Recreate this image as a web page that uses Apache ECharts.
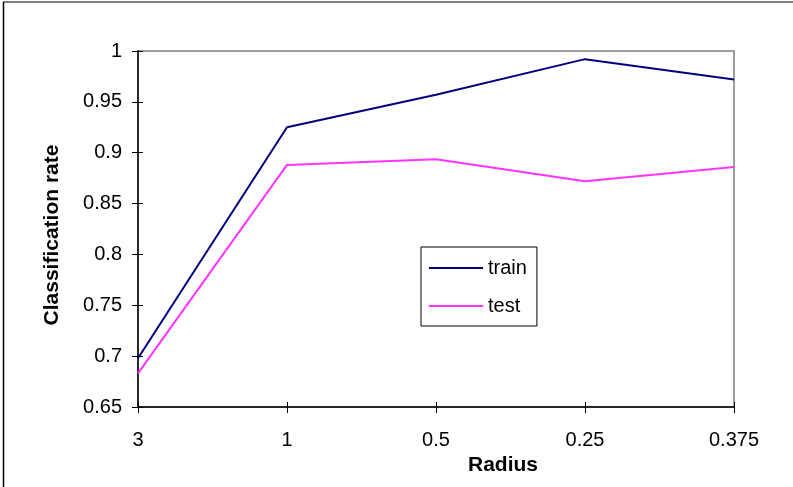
<!DOCTYPE html>
<html>
<head>
<meta charset="utf-8">
<script src="https://cdn.jsdelivr.net/npm/echarts@6/dist/echarts.min.js"></script>
<style>
  html, body { margin: 0; padding: 0; background: #fff; }
  #chart { width: 793px; height: 487px; }
</style>
</head>
<body>
<div id="chart"></div>
<script>
// Radius values along the x axis
const radii = ['3', '1', '0.5', '0.25', '0.375'];
// Classification rate per radius
const trainRate = [0.698, 0.925, 0.957, 0.992, 0.972];
const testRate = [0.683, 0.888, 0.8935, 0.872, 0.886];

const FONT = '"Liberation Sans", Arial, sans-serif';
const chart = echarts.init(document.getElementById('chart'), null, { renderer: 'canvas' });

const yBase = {
  type: 'value', min: 0.65, max: 1, interval: 0.05,
  splitLine: { show: false }
};
const xBase = {
  type: 'category', data: radii, boundaryGap: false
};

chart.setOption({
  animation: false,
  backgroundColor: '#ffffff',
  textStyle: { fontFamily: FONT },
  graphic: [
    { type: 'line', shape: { x1: 3, y1: 2, x2: 793, y2: 2 }, style: { stroke: '#808080', lineWidth: 2 }, z: 0 },
    { type: 'line', shape: { x1: 3.5, y1: 2, x2: 3.5, y2: 487 }, style: { stroke: '#000000', lineWidth: 1.5 }, z: 0 }
  ],
  grid: {
    left: 138, top: 51, right: 59, bottom: 80,
    show: true, borderColor: '#808080', borderWidth: 1.5, backgroundColor: 'transparent'
  },
  legend: {
    orient: 'vertical',
    left: 421, top: 247,
    padding: [11, 10, 10, 8],
    itemWidth: 54, itemHeight: 2, itemGap: 18,
    icon: 'rect',
    borderColor: '#000000', borderWidth: 1,
    backgroundColor: '#ffffff',
    textStyle: { fontFamily: FONT, fontSize: 20, color: '#000000' },
    data: ['train', 'test']
  },
  xAxis: [
    Object.assign({}, xBase, {
      name: 'Radius',
      nameLocation: 'middle',
      nameGap: 39,
      nameTextStyle: { fontFamily: FONT, fontSize: 21, fontWeight: 'bold', color: '#000', padding: [0, 0, 0, 134] },
      axisLine: { lineStyle: { color: '#000', width: 1.5 } },
      axisTick: { show: true, alignWithLabel: true, length: 6, lineStyle: { color: '#000' } },
      axisLabel: { margin: 23, fontFamily: FONT, fontSize: 20, color: '#000' }
    }),
    Object.assign({}, xBase, {
      position: 'bottom',
      axisLine: { show: false },
      axisTick: { show: true, inside: true, length: 5, lineStyle: { color: '#000' } },
      axisLabel: { show: false }
    })
  ],
  yAxis: [
    Object.assign({}, yBase, {
      name: 'Classification rate',
      nameLocation: 'middle',
      nameGap: 75,
      nameRotate: 90,
      nameTextStyle: { fontFamily: FONT, fontSize: 21, fontWeight: 'bold', color: '#000', padding: [0, 12, 0, 0] },
      axisLine: { show: true, lineStyle: { color: '#000', width: 1.5 } },
      axisTick: { show: true, length: 6, lineStyle: { color: '#000' } },
      axisLabel: { margin: 16, fontFamily: FONT, fontSize: 20, color: '#000' }
    }),
    Object.assign({}, yBase, {
      position: 'left',
      axisLine: { show: false },
      axisTick: { show: true, inside: true, length: 5, lineStyle: { color: '#000' } },
      axisLabel: { show: false }
    })
  ],
  series: [
    {
      name: 'train', type: 'line', data: trainRate,
      symbol: 'none', color: '#000080',
      lineStyle: { color: '#000080', width: 2 }
    },
    {
      name: 'test', type: 'line', data: testRate,
      symbol: 'none', color: '#FF33FF',
      lineStyle: { color: '#FF33FF', width: 2 }
    }
  ]
});
</script>
</body>
</html>
